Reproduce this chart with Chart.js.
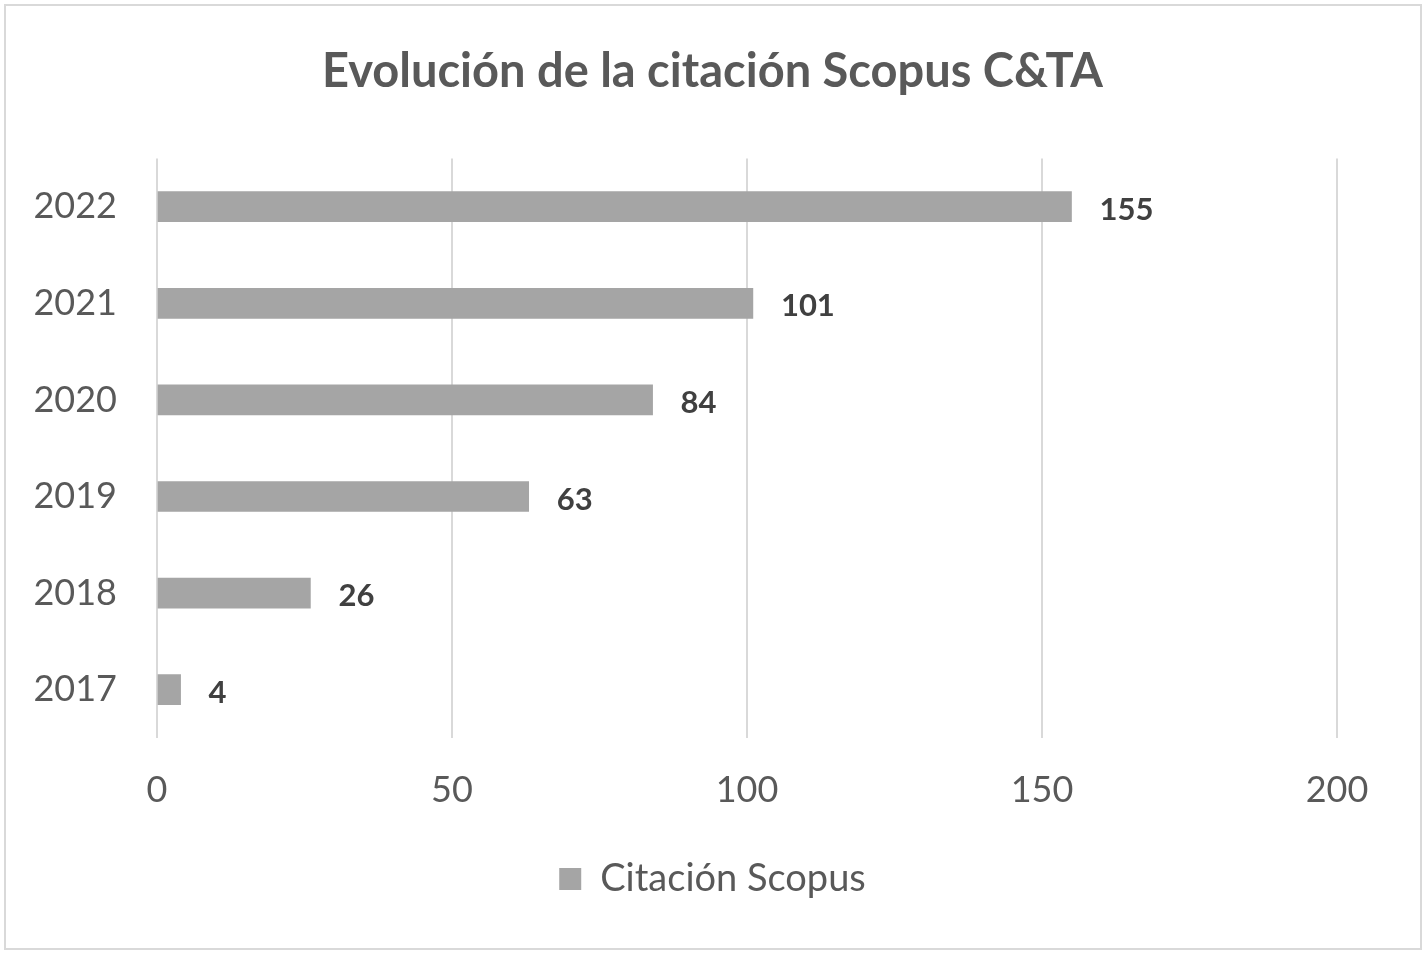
<!DOCTYPE html>
<html>
<head>
<meta charset="utf-8">
<script src="https://cdn.jsdelivr.net/npm/chart.js@4"></script>
<style>
  html, body { margin: 0; padding: 0; background: #fff; }
  #wrap { position: relative; width: 1425px; height: 953px; }
  #frame { position: absolute; left: 4px; top: 4px; width: 1414px; height: 942px; border: 2px solid #d9d9d9; pointer-events: none; }
</style>
</head>
<body>
<div id="wrap">
  <canvas id="chart" width="1425" height="953"></canvas>
  <div id="frame"></div>
</div>
<script>
const years = ["2022", "2021", "2020", "2019", "2018", "2017"];
const citations = [155, 101, 84, 63, 26, 4];
const xTicks = [0, 50, 100, 150, 200];

const FONT = "Lato, 'Open Sans', sans-serif";

// etiquetas de valor al final de cada barra
const valueLabels = {
  id: "valueLabels",
  afterDatasetsDraw(chart) {
    let ctx = chart.ctx;
    let meta = chart.getDatasetMeta(0);
    ctx.save();
    ctx.font = "bold 31px " + FONT;
    ctx.fillStyle = "#404040";
    ctx.textAlign = "left";
    ctx.textBaseline = "middle";
    meta.data.forEach((bar, i) => {
      ctx.fillText(String(citations[i]), bar.x + 28, bar.y + 3);
    });
    ctx.restore();
  },
};

function renderChart() {
  const ctx = document.getElementById("chart");
  new Chart(ctx, {
    type: "bar",
    data: {
      labels: years,
      datasets: [
        {
          label: "Citación Scopus",
          data: citations,
          backgroundColor: "#a5a5a5",
          borderWidth: 0,
          barThickness: 30,
        },
      ],
    },
    options: {
      indexAxis: "y",
      responsive: false,
      animation: false,
      devicePixelRatio: 1,
      layout: { padding: { left: 0, right: 0, top: 0, bottom: 45 } },
      scales: {
        x: {
          min: 0,
          max: 200,
          afterBuildTicks: (scale) => {
            scale.ticks = xTicks.map((v) => ({ value: v }));
          },
          afterFit: (scale) => {
            scale.height = 74;
          },
          grid: { color: "#d9d9d9", lineWidth: 2, drawTicks: false },
          border: { display: false },
          ticks: { color: "#595959", font: { family: FONT, size: 36 }, padding: 31 },
        },
        y: {
          afterFit: (scale) => {
            scale.width = 157;
          },
          grid: { display: false, drawTicks: false },
          border: { display: false },
          ticks: { color: "#595959", font: { family: FONT, size: 36 }, padding: 40 },
        },
        // eje vacío a la derecha, solo reserva el margen
        yRight: {
          type: "linear",
          axis: "y",
          position: "right",
          afterFit: (scale) => {
            scale.width = 88;
          },
          grid: { display: false, drawTicks: false },
          border: { display: false },
          ticks: { display: false },
        },
      },
      plugins: {
        title: {
          display: true,
          text: "Evolución de la citación Scopus C&TA",
          color: "#595959",
          font: { family: FONT, size: 47, weight: "bold" },
          padding: { top: 44, bottom: 58 },
        },
        legend: {
          position: "bottom",
          labels: {
            color: "#595959",
            font: { family: FONT, size: 38 },
            boxWidth: 22,
            boxHeight: 22,
            padding: 48,
          },
        },
        tooltip: { enabled: false },
      },
    },
    plugins: [valueLabels],
  });
}

renderChart();
</script>
</body>
</html>
